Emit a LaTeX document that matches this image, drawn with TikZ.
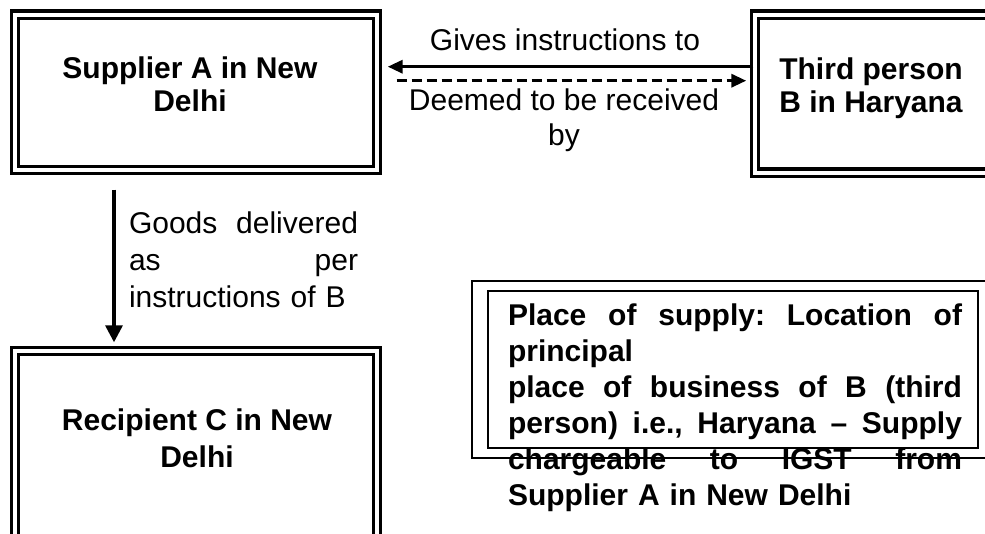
\documentclass[tikz,border=0pt]{standalone}
\usepackage{fontspec}
\setmainfont{Liberation Sans}
\usetikzlibrary{arrows.meta}
\begin{document}
\begin{tikzpicture}[x=1pt,y=-1pt,
  dbox/.style={draw, line width=3.4pt, double, double distance=4pt, inner sep=0pt},
  sbox/.style={draw, line width=2.2pt, inner sep=0pt},
  btxt/.style={font=\fontsize{30}{33}\selectfont\bfseries, align=center, inner sep=0pt},
  rtxt/.style={font=\fontsize{30}{35}\selectfont, align=center, inner sep=0pt},
  arr/.style={line width=3.3pt, -{Triangle[length=15pt,width=13pt]}}
]
\useasboundingbox[fill=white] (0,0) rectangle (985,533);
\begin{scope}
\clip (0,0) rectangle (985,533);
% boxes
\node[dbox, minimum width=362pt, minimum height=155.5pt] (sup) at (196,92.25) {};
\node[dbox, minimum width=245pt, minimum height=158pt] (thr) at (877.5,93.7) {};
\node[dbox, minimum width=362pt, minimum height=209pt] (rec) at (196,455.5) {};
\node[sbox, minimum width=528pt, minimum height=177pt] (posout) at (736,369.5) {};
\node[sbox, minimum width=490pt, minimum height=157pt] (posin) at (733,369.5) {};
% texts
\node[btxt] (suptxt) at (190,84) {Supplier A in New\\Delhi};
\node[btxt] (thrtxt) at (871,88.5) {Third person\\B in Haryana};
\node[btxt, font=\fontsize{30}{37}\selectfont\bfseries] (rectxt) at (197,438.5) {Recipient C in New\\Delhi};
\node[rtxt] (gives) at (565,40) {Gives instructions to};
\node[rtxt] (deemed) at (564,120.5) {Deemed to be received\\by};
\node[font=\fontsize{30}{37}\selectfont, text width=229pt, align=left, inner sep=0pt] (goods) at (243.5,260)
  {Goods\hfill delivered\\as\hfill per\\instructions of B};
\node[font=\fontsize{30}{36}\selectfont\bfseries, text width=454pt, align=left, inner sep=0pt] (postxt) at (735,408)
  {Place\hfill of\hfill supply:\hfill Location\hfill of\\
   principal\\
   place\hfill of\hfill business\hfill of\hfill B\hfill (third\\
   person)\hfill i.e.,\hfill Haryana\hfill –\hfill Supply\\
   chargeable\hfill to\hfill IGST\hfill from\\
   Supplier A in New Delhi};
% connectors
\draw[arr] (thr.west |- 0,66.7) -- ([xshift=9pt]sup.east |- 0,66.7);
\draw[arr, dash pattern=on 10pt off 5pt] ([xshift=18pt]sup.east |- 0,80.7) -- ([xshift=-7pt]thr.west |- 0,80.7);
\draw[arr, -{Triangle[length=17pt,width=17pt]}] ([yshift=-18pt]sup.south -| 114,0) -- ([yshift=7pt]rec.north -| 114,0);
\end{scope}
\end{tikzpicture}
\end{document}
